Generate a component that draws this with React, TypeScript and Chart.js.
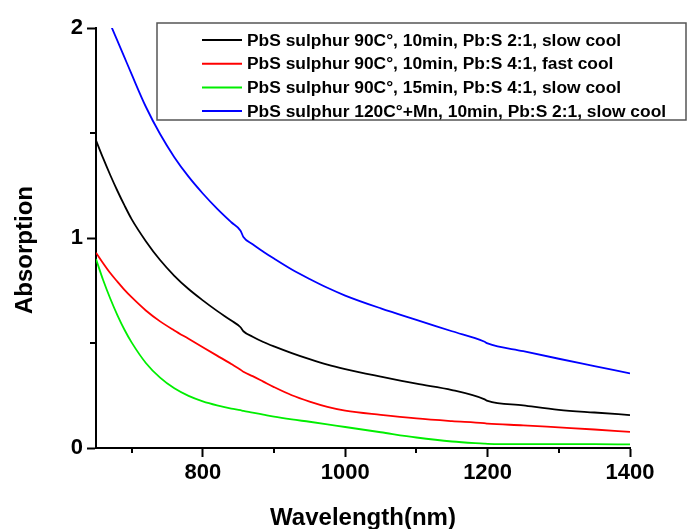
import { useEffect, useRef } from "react";
import { Chart, registerables } from "chart.js";

Chart.register(...registerables);

const wavelengths = [650, 660, 670, 680, 690, 700, 720, 740, 760, 780, 800, 820, 840, 853, 857, 870, 885, 900, 925, 950, 975, 1000, 1050, 1100, 1150, 1195, 1200, 1250, 1300, 1350, 1400];

const blackValues = [1.465, 1.38, 1.3, 1.225, 1.155, 1.09, 0.985, 0.895, 0.82, 0.757, 0.703, 0.653, 0.607, 0.575, 0.556, 0.53, 0.505, 0.484, 0.452, 0.423, 0.397, 0.376, 0.34, 0.306, 0.276, 0.233, 0.224, 0.203, 0.182, 0.169, 0.157];
const redValues = [0.93, 0.88, 0.833, 0.792, 0.753, 0.718, 0.655, 0.603, 0.56, 0.52, 0.48, 0.44, 0.4, 0.373, 0.363, 0.342, 0.316, 0.29, 0.251, 0.221, 0.196, 0.178, 0.158, 0.141, 0.128, 0.118, 0.116, 0.108, 0.098, 0.088, 0.077];
const greenValues = [0.9, 0.8, 0.712, 0.633, 0.563, 0.503, 0.405, 0.335, 0.284, 0.248, 0.222, 0.203, 0.188, 0.18, 0.177, 0.169, 0.159, 0.149, 0.136, 0.125, 0.113, 0.1, 0.075, 0.05, 0.031, 0.021, 0.02, 0.018, 0.018, 0.018, 0.017];
const blueValues = [2.2, 2.11, 2.02, 1.94, 1.86, 1.78, 1.625, 1.495, 1.385, 1.292, 1.212, 1.14, 1.075, 1.035, 1.005, 0.97, 0.935, 0.902, 0.85, 0.805, 0.763, 0.726, 0.665, 0.61, 0.556, 0.507, 0.498, 0.461, 0.425, 0.39, 0.355];

const seriesLabels = [
  "PbS sulphur 90C°, 10min, Pb:S 2:1, slow cool",
  "PbS sulphur 90C°, 10min, Pb:S 4:1, fast cool",
  "PbS sulphur 90C°, 15min, Pb:S 4:1, slow cool",
  "PbS sulphur 120C°+Mn, 10min, Pb:S 2:1, slow cool",
];
const seriesColors = ["#000000", "#ff0000", "#00ee00", "#0000ff"];

const xTickValues = [800, 1000, 1200, 1400];
const xMinorTicks = [700, 900, 1100, 1300];
const yTickValues = [0, 1, 2];
const yMinorTicks = [0.5, 1.5];

const xTitle = "Wavelength(nm)";
const yTitle = "Absorption";

const FONT = "'Liberation Sans', Arial, sans-serif";

const decorPlugin = {
  id: "decor",
  afterDraw(chart: any) {
    const ctx = chart.ctx as CanvasRenderingContext2D;
    const xs = chart.scales.x;
    const ys = chart.scales.y;
    const area = chart.chartArea;
    ctx.save();
    // minor ticks
    ctx.strokeStyle = "#000";
    ctx.lineWidth = 2;
    ctx.beginPath();
    for (const v of xMinorTicks) {
      const px = Math.round(xs.getPixelForValue(v));
      ctx.moveTo(px, area.bottom);
      ctx.lineTo(px, area.bottom + 5);
    }
    for (const v of yMinorTicks) {
      const py = Math.round(ys.getPixelForValue(v));
      ctx.moveTo(area.left, py);
      ctx.lineTo(area.left - 6, py);
    }
    ctx.stroke();

    // axis titles
    ctx.fillStyle = "#000";
    ctx.font = `bold 24px ${FONT}`;
    ctx.textAlign = "center";
    ctx.textBaseline = "alphabetic";
    ctx.fillText(xTitle, (area.left + area.right) / 2, 525);
    ctx.save();
    ctx.translate(32, 250);
    ctx.rotate(-Math.PI / 2);
    ctx.fillText(yTitle, 0, 0);
    ctx.restore();

    // legend
    const bx = 157, by = 23, bw = 529, bh = 97;
    ctx.fillStyle = "#fff";
    ctx.fillRect(bx, by, bw, bh);
    ctx.strokeStyle = "#555";
    ctx.lineWidth = 1.5;
    ctx.strokeRect(bx, by, bw, bh);
    ctx.font = `bold 17.4px ${FONT}`;
    ctx.textAlign = "left";
    ctx.textBaseline = "middle";
    chart.data.datasets.forEach((ds: any, i: number) => {
      const y = 40 + i * 23.7;
      ctx.strokeStyle = ds.borderColor;
      ctx.lineWidth = 2;
      ctx.beginPath();
      ctx.moveTo(202, y);
      ctx.lineTo(242, y);
      ctx.stroke();
      ctx.fillStyle = "#000";
      ctx.fillText(ds.label, 247, y + 1);
    });
    ctx.restore();
  },
};

export default function App() {
  const ref = useRef<HTMLCanvasElement | null>(null);
  useEffect(() => {
    if (!ref.current) return;
    const seriesValues = [blackValues, redValues, greenValues, blueValues];
    const chart = new Chart(ref.current, {
      type: "line",
      data: {
        datasets: seriesValues.map((vals, i) => ({
          label: seriesLabels[i],
          data: wavelengths.map((w, j) => ({ x: w, y: vals[j] })),
          borderColor: seriesColors[i],
          backgroundColor: seriesColors[i],
          borderWidth: 1.8,
          pointRadius: 0,
          cubicInterpolationMode: "monotone" as const,
          fill: false,
        })),
      },
      options: {
        animation: false,
        responsive: false,
        maintainAspectRatio: false,
        layout: { padding: { left: 0, right: 57, top: 28, bottom: 0 } },
        plugins: {
          legend: { display: false },
          tooltip: { enabled: false },
          title: { display: false },
        },
        scales: {
          x: {
            type: "linear",
            min: 650,
            max: 1400,
            afterBuildTicks: (scale: any) => {
              scale.ticks = xTickValues.map((v) => ({ value: v }));
            },
            afterFit: (scale: any) => {
              scale.height = 81;
            },
            border: { display: true, color: "#000", width: 2 },
            grid: { display: true, drawOnChartArea: false, drawTicks: true, tickLength: 9, tickColor: "#000", tickWidth: 2 },
            ticks: {
              color: "#000",
              padding: 3,
              maxRotation: 0,
              autoSkip: false,
              font: { family: FONT, size: 22, weight: "bold" },
              callback: (v: any) => String(v),
            },
          },
          y: {
            type: "linear",
            min: 0,
            max: 2,
            afterBuildTicks: (scale: any) => {
              scale.ticks = yTickValues.map((v) => ({ value: v }));
            },
            afterFit: (scale: any) => {
              scale.width = 96;
            },
            border: { display: true, color: "#000", width: 2 },
            grid: { display: true, drawOnChartArea: false, drawTicks: true, tickLength: 9, tickColor: "#000", tickWidth: 2 },
            ticks: {
              color: "#000",
              padding: 4,
              autoSkip: false,
              font: { family: FONT, size: 22, weight: "bold" },
              callback: (v: any) => String(v),
            },
          },
        },
      },
      plugins: [decorPlugin],
    });
    return () => chart.destroy();
  }, []);
  return (
    <div style={{ position: "absolute", left: 0, top: 0, width: 687, height: 529, background: "#fff" }}>
      <canvas ref={ref} width={687} height={529} style={{ display: "block" }} />
    </div>
  );
}
